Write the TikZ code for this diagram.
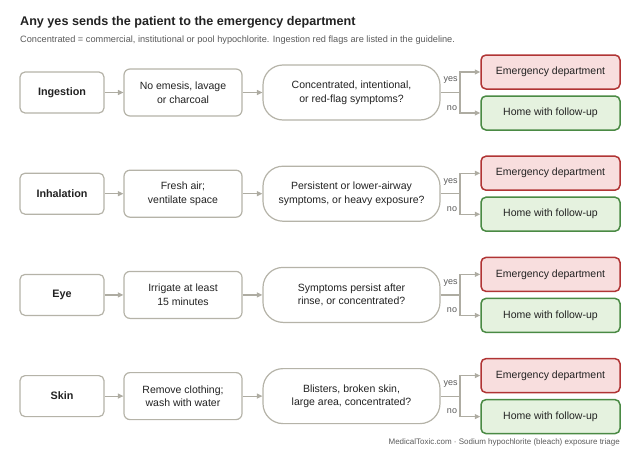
\documentclass[tikz,border=0pt]{standalone}
\usepackage{fontspec}
\setmainfont{Liberation Sans}
\usetikzlibrary{arrows.meta}
\definecolor{boxgray}{HTML}{B5B3A8}
\definecolor{linegray}{HTML}{AEACA2}
\definecolor{txt}{HTML}{222222}
\definecolor{subtxt}{HTML}{5A5A5A}
\definecolor{edfill}{HTML}{F8DEDE}
\definecolor{edline}{HTML}{B03434}
\definecolor{homefill}{HTML}{E5F2DF}
\definecolor{homeline}{HTML}{4A8A44}
\tikzset{
  base/.style={draw=boxgray, line width=1.2pt, fill=white, align=center, inner sep=0pt, text=txt,
    font=\fontsize{10.5}{13.6}\selectfont},
  catbox/.style={base, minimum width=84pt, minimum height=41pt, rounded corners=5pt,
    font=\fontsize{10.8}{13}\selectfont\bfseries},
  actbox/.style={base, minimum width=118pt, minimum height=47pt, rounded corners=6pt},
  qbox/.style={base, minimum width=177pt, minimum height=55pt, rounded corners=20pt},
  edbox/.style={base, draw=edline, fill=edfill, line width=1.5pt, minimum width=139pt, minimum height=34pt, rounded corners=5pt},
  homebox/.style={base, draw=homeline, fill=homefill, line width=1.5pt, minimum width=139pt, minimum height=34pt, rounded corners=5pt},
  conn/.style={draw=linegray, line width=1.2pt, -{Triangle[length=5.5pt,width=5pt]}},
  plain/.style={draw=linegray, line width=1.2pt},
  lab/.style={text=subtxt, font=\fontsize{9}{10}\selectfont, inner sep=0pt},
}
\begin{document}
\begin{tikzpicture}[x=1pt,y=-1pt]
\useasboundingbox (0,0) rectangle (640,455);
\node[anchor=base west, inner sep=0pt, text=txt, font=\fontsize{12.6}{15}\selectfont\bfseries] (title) at (20,25) {Any yes sends the patient to the emergency department};
\node[anchor=base west, inner sep=0pt, text=subtxt, font=\fontsize{9.2}{10}\selectfont] (sub) at (20,42.5) {Concentrated = commercial, institutional or pool hypochlorite. Ingestion red flags are listed in the guideline.};
\node[anchor=base east, inner sep=0pt, text=subtxt, font=\fontsize{8}{10}\selectfont] (foot) at (620,444) {MedicalToxic.com · Sodium hypochlorite (bleach) exposure triage};

\foreach \i/\y/\cat/\act/\q in {
  1/92.5/Ingestion/{No emesis, lavage\\or charcoal}/{Concentrated, intentional,\\or red-flag symptoms?},
  2/193.7/Inhalation/{Fresh air;\\ventilate space}/{Persistent or lower-airway\\symptoms, or heavy exposure?},
  3/294.9/Eye/{Irrigate at least\\15 minutes}/{Symptoms persist after\\rinse, or concentrated?},
  4/396.1/Skin/{Remove clothing;\\wash with water}/{Blisters, broken skin,\\large area, concentrated?}}{
  \node[catbox] (c\i) at (62,\y) {\cat};
  \node[actbox] (a\i) at (183,\y) {\act};
  \node[qbox] (q\i) at (351.5,\y) {\q};
  \node[edbox] (e\i) at (550.5,\y-20.5) {Emergency department};
  \node[homebox] (h\i) at (550.5,\y+20.5) {Home with follow-up};
  \coordinate (j\i) at (460,\y);
  \draw[conn] (c\i) -- (a\i);
  \draw[conn] (a\i) -- (q\i);
  \draw[plain] (q\i.east) -- (j\i);
  \draw[conn] (j\i) |- (e\i.west);
  \draw[conn] (j\i) |- (h\i.west);
  \node[lab] (y\i) at (450.5,\y-12) {yes};
  \node[lab] (n\i) at (452,\y+15.5) {no};
}
\end{tikzpicture}
\end{document}
